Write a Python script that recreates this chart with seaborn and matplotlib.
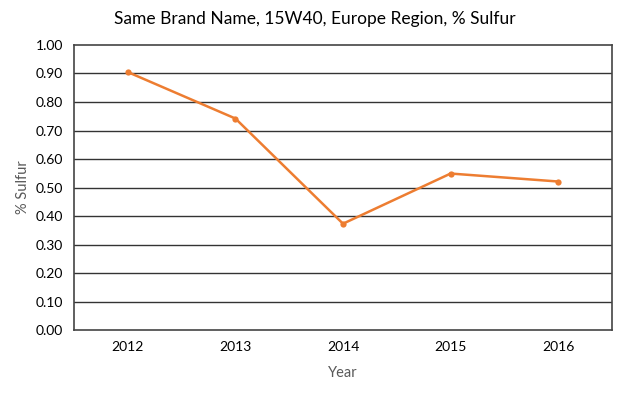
import matplotlib
matplotlib.use('Agg')
import matplotlib.pyplot as plt
import seaborn as sns
import pandas as pd

# Values
years = ['2012', '2013', '2014', '2015', '2016']
sulfur = [0.905, 0.742, 0.373, 0.549, 0.521]
y_ticks = [0.0, 0.1, 0.2, 0.3, 0.4, 0.5, 0.6, 0.7, 0.8, 0.9, 1.0]

df = pd.DataFrame({'Year': years, 'Sulfur': sulfur})

sns.set_style('white')
plt.rcParams['font.family'] = ['Lato', 'DejaVu Sans']

fig = plt.figure(figsize=(6.24, 3.94), dpi=100)
ax = fig.add_axes([0.1186, 0.1624, 0.8622, 0.7234])

sns.lineplot(data=df, x='Year', y='Sulfur', marker='o', color='#ED7D31',
             linewidth=1.8, markersize=4.5, markeredgewidth=0, ax=ax)

ax.set_xlim(-0.5, len(years) - 0.5)
ax.set_ylim(0, 1.0)
ax.set_yticks(y_ticks)
ax.set_yticklabels([f'{t:.2f}' for t in y_ticks])
for t in y_ticks[1:-1]:
    ax.axhline(t, color='#333333', linewidth=1.0, zorder=0)

for side in ['left', 'right', 'top', 'bottom']:
    ax.spines[side].set_visible(True)
    ax.spines[side].set_color('#444444')
    ax.spines[side].set_linewidth(1.2)

ax.tick_params(axis='both', length=0, labelsize=10, colors='black', pad=8)
ax.set_xlabel('Year', fontsize=10.5, color='#595959', labelpad=9)
ax.set_ylabel('% Sulfur', fontsize=10.5, color='#595959', labelpad=4)
fig.text(0.505, 0.952, 'Same Brand Name, 15W40, Europe Region, % Sulfur',
         ha='center', va='center', fontsize=12.5, color='black')

fig.savefig('out.png', dpi=100)
